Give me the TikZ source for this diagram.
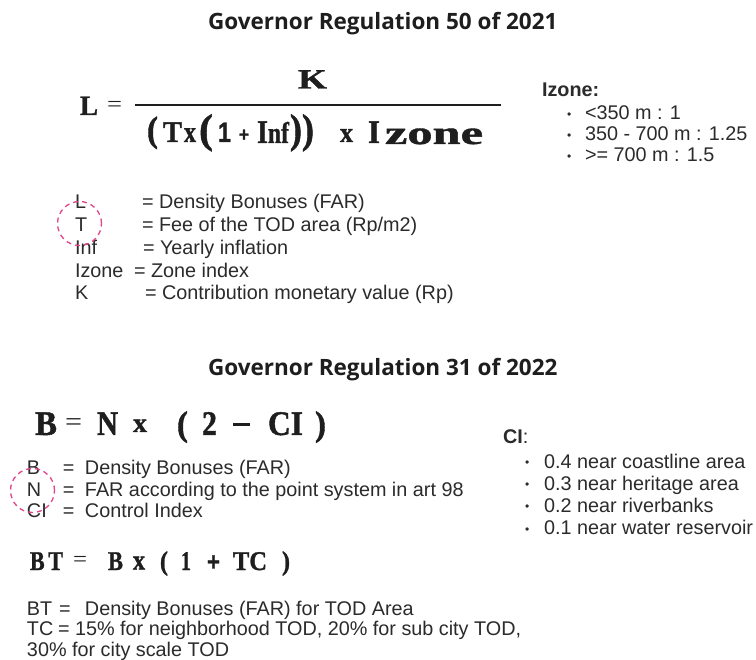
\documentclass[tikz,border=0pt]{standalone}
\usepackage{fontspec}
\usepackage{graphicx}
\setmainfont{Liberation Sans}
\newfontfamily\headfont{Open Sans}
\newfontfamily\eqserif{Liberation Serif}[BoldFeatures={FakeBold=1.2}]
\newfontfamily\eqsans{Liberation Sans}[BoldFeatures={FakeBold=1.2}]
% a formula glyph group: font size, target width, text
\newcommand{\eqp}[3]{\fontsize{#1}{#1}\selectfont\resizebox{#2pt}{\height}{#3}}
\definecolor{txtcol}{HTML}{2B2B2B}
\definecolor{eqcol}{HTML}{1E1E1E}
\definecolor{ringpink}{HTML}{E2448A}
\tikzset{
  eqb/.style={anchor=base west, inner sep=0pt, outer sep=0pt, text=eqcol, font=\eqserif\bfseries},
  eqr/.style={anchor=base west, inner sep=0pt, outer sep=0pt, text=eqcol, font=\eqserif},
  eqs/.style={anchor=base west, inner sep=0pt, outer sep=0pt, text=eqcol, font=\eqsans\bfseries},
  txt/.style={anchor=base west, inner sep=0pt, outer sep=0pt, text=txtcol, font=\fontsize{19.8}{22}\selectfont},
  txtb/.style={txt, font=\fontsize{19.8}{22}\selectfont\bfseries},
  dot/.style={anchor=base west, inner sep=0pt, outer sep=0pt, text=txtcol, font=\fontsize{12}{12}\selectfont},
  heading/.style={anchor=base west, inner sep=0pt, outer sep=0pt, text=eqcol, font=\headfont\bfseries\fontsize{22.5}{25}\selectfont},
  ring/.style={circle, draw=ringpink, line width=1.3pt, dash pattern=on 5pt off 4pt, minimum size=44pt, inner sep=0pt}
}
\begin{document}
\begin{tikzpicture}[x=1pt,y=-1pt]
\useasboundingbox (0,0) rectangle (756,660);
\fill[white] (0,0) rectangle (756,660);

% ---------- Regulation 50 of 2021 ----------
\node[heading] (title1) at (208,30) {Governor Regulation 50 of 2021};

\node[eqb] (aL)   at (80,115)  {\eqp{28}{18}{L}};
\node[eqr] (aEq)  at (107,112) {\eqp{22}{15}{=}};
\node[eqb] (aK)   at (298,88.5) {\eqp{28}{29}{K}};
\coordinate (ruleL) at (135,105);
\coordinate (ruleR) at (501,105);
\draw[eqcol, line width=2.6pt] (ruleL) -- (ruleR);
\node[eqb] (aP1)  at (147,141.5) {\eqp{36}{11}{(}};
\node[eqb] (aT)   at (163,142) {\eqp{30}{19}{T}};
\node[eqb] (aX1)  at (184,142) {\eqp{30}{12}{x}};
\node[eqb] (aP2)  at (199,142.7) {\eqp{41}{14}{(}};
\node[eqs] (aOne) at (218,142) {\eqp{28}{13}{1}};
\node[eqs] (aPl)  at (239,141.3) {\eqp{20}{10}{+}};
\node[eqb] (aI1)  at (257,143) {\eqp{33}{11}{I}};
\node[eqb] (aNf)  at (268,143) {\eqp{30}{21}{nf}};
\node[eqb] (aP3)  at (290,142.7) {\eqp{41}{24}{))}};
\node[eqb] (aX2)  at (340,142) {\eqp{28}{13}{x}};
\node[eqb] (aI2)  at (368,143) {\eqp{33}{12}{I}};
\node[eqb] (aZone) at (385,144) {\eqp{33}{98}{zone}};

% Izone values
\node[txtb] (izh) at (542,97) {Izone:};
\node[dot] (izd1) at (567,119) {\textbullet};
\node[dot] (izd2) at (567,140) {\textbullet};
\node[dot] (izd3) at (567,161) {\textbullet};
\node[txt] (iz1) at (585,120) {<350 m : 1};
\node[txt] (iz2) at (585,141) {350 - 700 m : 1.25};
\node[txt] (iz3) at (585,162) {>= 700 m : 1.5};

% legend
\node[txt] (lgL)  at (75,209) {L};
\node[txt] (lgT)  at (75,232) {T};
\node[txt] (lgI)  at (75,255) {Inf};
\node[txt] (lgZ)  at (75,278) {Izone};
\node[txt] (lgK)  at (75,300) {K};
\node[txt] (dfL)  at (142,209) {= Density Bonuses (FAR)};
\node[txt] (dfT)  at (142,232) {= Fee of the TOD area (Rp/m2)};
\node[txt] (dfI)  at (143,255) {= Yearly inflation};
\node[txt] (dfZ)  at (134,278) {= Zone index};
\node[txt] (dfK)  at (145,300) {= Contribution monetary value (Rp)};
\node[ring] (ringT) at (79.5,223.5) {};

% ---------- Regulation 31 of 2022 ----------
\node[heading] (title2) at (208,376) {Governor Regulation 31 of 2022};

\node[eqb] (bB)   at (35,435)  {\eqp{34.5}{22}{B}};
\node[eqr] (bEq)  at (65,431)  {\eqp{26}{17}{=}};
\node[eqb] (bN)   at (97,435)  {\eqp{34.5}{21}{N}};
\node[eqr] (bX)   at (133,432) {\eqp{27}{14}{\bfseries x}};
\node[eqb] (bP1)  at (177,435.5) {\eqp{35}{11}{(}};
\node[eqb] (bTwo) at (202,435) {\eqp{34.5}{15}{2}};
\node[eqb] (bMin) at (233,435) {\textcolor{eqcol}{\rule[9pt]{17pt}{3.2pt}}};
\node[eqb] (bCI)  at (268,435) {\eqp{34.5}{35}{CI}};
\node[eqb] (bP2)  at (315,435.5) {\eqp{35}{11}{)}};

% CI values
\node[txt] (cih) at (503,444) {\textbf{CI}:};
\node[dot] (cid1) at (525,467) {\textbullet};
\node[dot] (cid2) at (525,489) {\textbullet};
\node[dot] (cid3) at (525,511) {\textbullet};
\node[dot] (cid4) at (525,533) {\textbullet};
\node[txt] (ci1) at (544,469) {0.4 near coastline area};
\node[txt] (ci2) at (544,491) {0.3 near heritage area};
\node[txt] (ci3) at (544,513) {0.2 near riverbanks};
\node[txt] (ci4) at (544,535) {0.1 near water reservoir};

% legend
\node[txt] (lgB)  at (27,475) {B};
\node[txt] (lgN)  at (27,497) {N};
\node[txt] (lgC)  at (27,518) {CI};
\node[txt] (dfB)  at (63,475) {\makebox[22pt][l]{=}Density Bonuses (FAR)};
\node[txt] (dfN)  at (63,497) {\makebox[22pt][l]{=}FAR according to the point system in art 98};
\node[txt] (dfC)  at (63,518) {\makebox[22pt][l]{=}Control Index};
\node[ring] (ringN) at (32.5,490.5) {};

% TOD formula
\node[eqb] (cBT)  at (30,570)  {\eqp{27}{33}{B\,T}};
\node[eqr] (cEq)  at (73,567)  {\eqp{22}{14}{=}};
\node[eqb] (cB)   at (108,570) {\eqp{27}{15}{B}};
\node[eqb] (cX)   at (133,569.5) {\eqp{28}{12}{x}};
\node[eqb] (cP1)  at (160,570) {\eqp{27}{8}{(}};
\node[eqb] (cOne) at (181,570) {\eqp{27}{10}{1}};
\node[eqs] (cPl)  at (207,570.5) {\eqp{26}{13}{+}};
\node[eqb] (cTC)  at (233,570) {\eqp{27}{34}{TC}};
\node[eqb] (cP2)  at (282,570) {\eqp{27}{8}{)}};

\node[txt] (lgBT) at (27,615) {BT};
\node[txt] (dfBT) at (59,615) {\makebox[26pt][l]{=}Density Bonuses (FAR) for TOD Area};
\node[txt] (lgTC) at (27,635) {TC};
\node[txt] (dfTC) at (58,635) {= 15\% for neighborhood TOD, 20\% for sub city TOD,};
\node[txt] (dfTC2) at (27,656) {30\% for city scale TOD};
\end{tikzpicture}
\end{document}
